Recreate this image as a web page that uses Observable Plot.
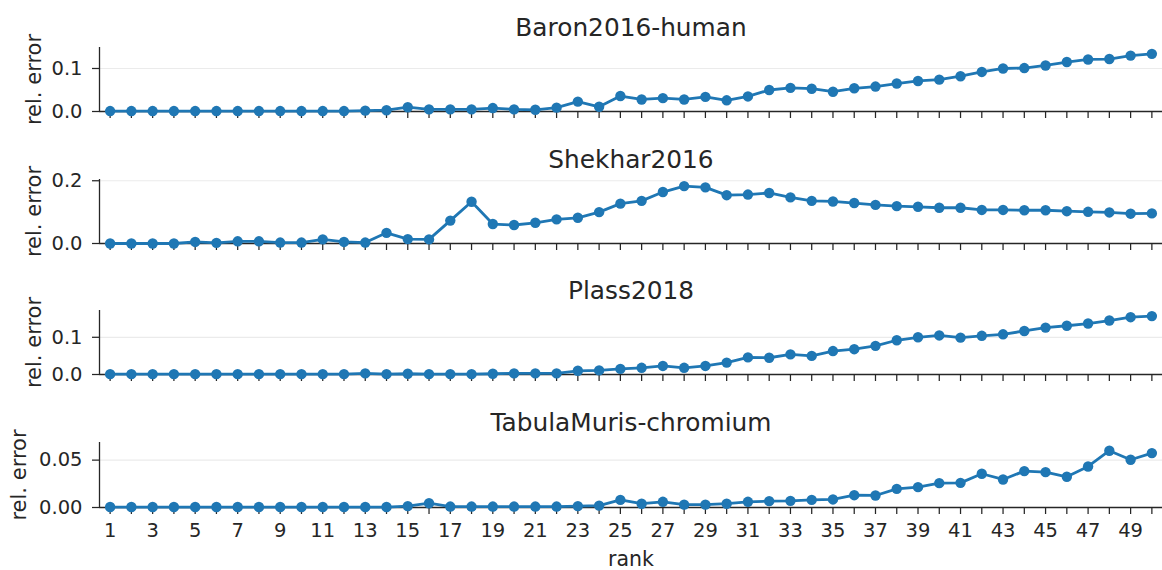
<!DOCTYPE html>
<html>
<head>
<meta charset="utf-8">
<script src="https://cdn.jsdelivr.net/npm/d3@7"></script>
<script src="https://cdn.jsdelivr.net/npm/@observablehq/plot@0.6"></script>
<style>
  html, body { margin: 0; padding: 0; background: white; }
  #chart svg { display: block; }
  #chart svg g[aria-label="y-axis tick label"],
  #chart svg g[aria-label="y-axis tick label"] text { font-size: 19.5px !important; }
  #chart svg g[aria-label="x-axis tick label"],
  #chart svg g[aria-label="x-axis tick label"] text { font-size: 19.5px !important; }
</style>
</head>
<body>
<div id="chart"></div>
<script>
const ranks = [1,2,3,4,5,6,7,8,9,10,11,12,13,14,15,16,17,18,19,20,21,22,23,24,25,26,27,28,29,30,31,32,33,34,35,36,37,38,39,40,41,42,43,44,45,46,47,48,49,50];

const titles = ["Baron2016-human", "Shekhar2016", "Plass2018", "TabulaMuris-chromium"];

const baron = [0.001,0.001,0.001,0.001,0.001,0.001,0.001,0.001,0.001,0.001,0.001,0.001,0.002,0.003,
  0.010,0.005,0.005,0.005,0.008,0.005,0.004,0.009,
  0.023,0.011,0.036,0.028,0.031,0.028,0.034,0.026,0.035,0.050,0.055,0.053,0.046,0.054,0.058,0.065,0.071,0.074,
  0.082,0.092,0.100,0.101,0.107,0.115,0.121,0.122,0.130,0.134];
const baronErr = [0.0005,0.0005,0.0005,0.0005,0.0005,0.0005,0.0005,0.0005,0.0005,0.0005,0.0005,0.0005,0.0005,0.0005,
  0.0015,0.001,0.001,0.001,0.0015,0.001,0.001,0.0015,
  0.002,0.002,0.002,0.002,0.002,0.002,0.002,0.002,0.002,0.002,0.002,0.002,0.002,0.002,0.002,0.002,0.002,0.002,
  0.003,0.004,0.002,0.003,0.005,0.003,0.003,0.002,0.003,0.002];

const shekhar = [0.000,0.000,0.000,0.000,0.005,0.002,0.007,0.007,0.003,0.003,
  0.013,0.005,0.003,0.034,0.014,0.013,0.073,0.133,0.062,0.059,
  0.066,0.077,0.082,0.100,0.127,0.136,0.164,0.183,0.179,0.154,
  0.156,0.161,0.147,0.136,0.134,0.129,0.123,0.119,0.117,0.114,
  0.114,0.107,0.107,0.106,0.106,0.103,0.101,0.099,0.095,0.096];
const shekharErr = [0.001,0.001,0.001,0.001,0.002,0.001,0.002,0.002,0.001,0.001,
  0.003,0.002,0.001,0.006,0.004,0.003,0.005,0.006,0.004,0.004,
  0.004,0.004,0.004,0.012,0.013,0.010,0.012,0.006,0.005,0.003,
  0.003,0.003,0.003,0.003,0.003,0.003,0.003,0.003,0.003,0.003,
  0.003,0.003,0.003,0.003,0.003,0.003,0.003,0.003,0.003,0.003];

const plass = [0.001,0.001,0.001,0.001,0.001,0.001,0.001,0.001,0.001,0.001,0.001,0.001,0.003,0.001,
  0.002,0.001,0.001,0.001,0.002,0.003,0.003,0.003,
  0.010,0.011,0.015,0.018,0.023,0.018,0.023,0.032,
  0.046,0.045,0.054,0.050,0.063,0.068,0.077,0.092,0.100,0.105,
  0.099,0.104,0.108,0.117,0.126,0.131,0.137,0.145,0.154,0.157];
const plassErr = [0.0005,0.0005,0.0005,0.0005,0.0005,0.0005,0.0005,0.0005,0.0005,0.0005,0.0005,0.0005,0.0005,0.0005,
  0.0005,0.0005,0.0005,0.0005,0.0005,0.0005,0.0005,0.0005,
  0.002,0.002,0.002,0.002,0.002,0.002,0.002,0.002,
  0.002,0.002,0.002,0.002,0.002,0.002,0.002,0.006,0.004,0.003,
  0.002,0.002,0.002,0.002,0.002,0.002,0.002,0.002,0.002,0.002];

const tabula = [0.0005,0.0005,0.0005,0.0005,0.0005,0.0005,0.0005,0.0005,0.0005,0.0005,0.0005,0.0005,0.0005,0.0005,
  0.0015,0.0045,0.001,0.001,0.001,0.001,0.001,0.001,0.0015,0.002,
  0.008,0.004,0.006,0.003,0.003,0.004,
  0.006,0.0067,0.007,0.008,0.0085,0.013,0.0127,0.0197,0.0215,0.0257,
  0.026,0.0356,0.0296,0.0384,0.0373,0.0324,0.0433,0.0599,0.0504,0.0574];
const tabulaErr = [0.0003,0.0003,0.0003,0.0003,0.0003,0.0003,0.0003,0.0003,0.0003,0.0003,0.0003,0.0003,0.0003,0.0003,
  0.0005,0.001,0.0003,0.0003,0.0003,0.0003,0.0003,0.0003,0.0003,0.0003,
  0.001,0.0008,0.0008,0.0008,0.0008,0.0008,
  0.0008,0.0008,0.0008,0.0008,0.0008,0.001,0.001,0.001,0.001,0.0012,
  0.004,0.003,0.002,0.004,0.003,0.003,0.004,0.003,0.002,0.004];

const yDomains = [[0, 0.1488], [0, 0.204], [0, 0.172], [0, 0.0686]];
const yTicks = [[0, 0.1], [0, 0.2], [0, 0.1], [0, 0.05]];
const yFormats = [".1f", ".1f", ".1f", ".2f"];

const blue = "#1f77b4";
const ink = "#262626";
const series = [[baron, baronErr], [shekhar, shekharErr], [plass, plassErr], [tabula, tabulaErr]];
const heights = [132, 131, 132, 175];
const plotH = [64, 64, 64, 65];
const labelDx = [-65, -65, -65, -80];

const chart = document.getElementById("chart");

series.forEach(([vals, errs], k) => {
  const bottom = k === 3;
  const data = ranks.map((r, i) => ({rank: r, v: vals[i], e: errs[i]}));
  const marginTop = 47;
  const marginBottom = heights[k] - marginTop - plotH[k];
  const fmt = d3.format(yFormats[k]);
  const marks = [
    Plot.gridY(yTicks[k], {stroke: "#ebebeb", strokeOpacity: 1, strokeWidth: 1.2}),
    Plot.ruleX([0.5], {stroke: ink, strokeWidth: 1.3}),
    Plot.ruleY([0], {stroke: ink, strokeWidth: 1.3}),
    Plot.axisY({ticks: yTicks[k], tickFormat: fmt, tickSize: 7, tickPadding: 10, strokeWidth: 1.25, label: null, fontSize: 19.5}),
    Plot.axisX({ticks: ranks, tickSize: 7, tickPadding: 9, strokeWidth: 1.25, label: null, fontSize: 19.5,
      tickFormat: bottom ? (d => (d % 2 === 1 ? String(d) : "")) : (() => "")}),
    Plot.ruleX(data, {x: "rank", y1: d => d.v - d.e, y2: d => d.v + d.e, stroke: blue, strokeWidth: 2.8}),
    Plot.line(data, {x: "rank", y: "v", stroke: blue, strokeWidth: 2.8}),
    Plot.dot(data, {x: "rank", y: "v", r: 5.2, fill: blue, stroke: null}),
    Plot.text([titles[k]], {text: d => d, frameAnchor: "top", dy: -12, lineAnchor: "bottom", fontSize: 24.8, fill: ink}),
    Plot.text(["rel. error"], {text: d => d, frameAnchor: "left", textAnchor: "middle", dx: labelDx[k], rotate: -90, lineAnchor: "middle", fontSize: 21, fill: ink})
  ];
  if (bottom) {
    marks.push(Plot.text(["rank"], {text: d => d, frameAnchor: "bottom", dy: 58, lineAnchor: "bottom", fontSize: 20.5, fill: ink}));
  }
  const svg = Plot.plot({
    width: 1162,
    height: heights[k],
    marginLeft: 99,
    marginRight: 0,
    marginTop,
    marginBottom,
    style: {fontFamily: "DejaVu Sans", color: ink, background: "white", overflow: "visible", fontSize: "19.5px"},
    x: {type: "linear", domain: [0.5, 50.5]},
    y: {domain: yDomains[k]},
    marks
  });
  chart.appendChild(svg);
});
</script>
</body>
</html>
